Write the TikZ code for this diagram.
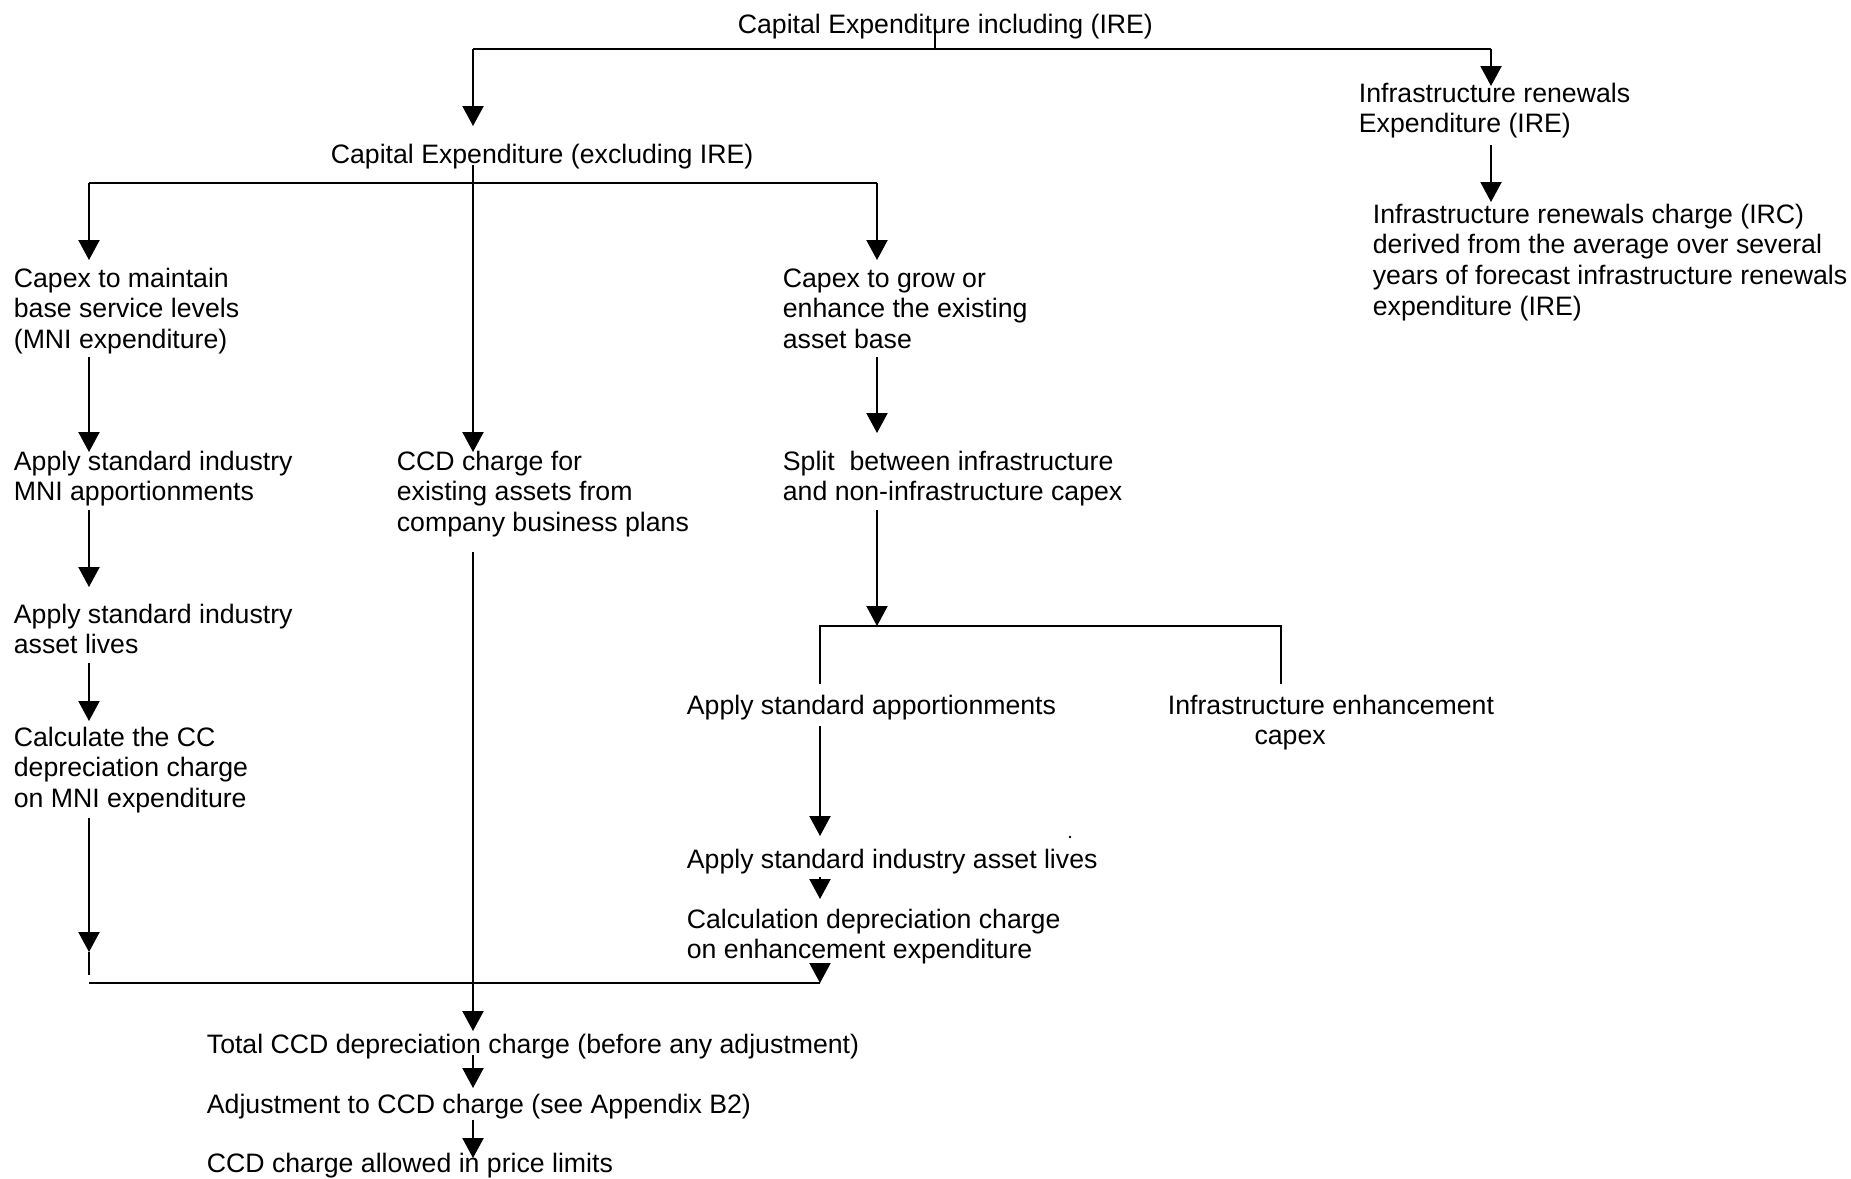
\documentclass[tikz,border=0pt]{standalone}
\usepackage{fontspec}
\setmainfont{Liberation Sans}
\usetikzlibrary{arrows.meta}
\begin{document}
\begin{tikzpicture}[x=0.45pt,y=-0.45pt,line width=0.8pt,
  txt/.style={inner sep=0pt,anchor=base west},
  arr/.style={-{Triangle[width=9.5pt,length=9pt]}},
  font=\fontsize{12}{13.8}\selectfont]
\useasboundingbox (0,0) rectangle (1851,1178);
% text nodes
\node[txt] (top) at (737,33) {Capital Expenditure including (IRE)};
\node[txt] (ire) at (1358,102) {\vtop{\hbox{Infrastructure renewals}\hbox{Expenditure (IRE)}}};
\node[txt] (irc) at (1372,223) {\vtop{\hbox{Infrastructure renewals charge (IRC)}\hbox{derived from the average over several}\hbox{years of forecast infrastructure renewals}\hbox{expenditure (IRE)}}};
\node[txt] (excl) at (330,163) {Capital Expenditure (excluding IRE)};
\node[txt] (mni) at (13,287) {\vtop{\hbox{Capex to maintain}\hbox{base service levels}\hbox{(MNI expenditure)}}};
\node[txt] (grow) at (782,287) {\vtop{\hbox{Capex to grow or}\hbox{enhance the existing}\hbox{asset base}}};
\node[txt] (apmni) at (13,470) {\vtop{\hbox{Apply standard industry}\hbox{MNI apportionments}}};
\node[txt] (ccd) at (396,470) {\vtop{\hbox{CCD charge for}\hbox{existing assets from}\hbox{company business plans}}};
\node[txt] (split) at (782,470) {\vtop{\hbox{Split\ \ between infrastructure}\hbox{and non-infrastructure capex}}};
\node[txt] (life) at (13,623) {\vtop{\hbox{Apply standard industry}\hbox{asset lives}}};
\node[txt] (calc) at (13,746) {\vtop{\hbox{Calculate the CC}\hbox{depreciation charge}\hbox{on MNI expenditure}}};
\node[txt] (appapp) at (686,714) {Apply standard apportionments};
\node[txt] (infenh) at (1167,714) {\vtop{\hbox{Infrastructure enhancement}\hbox{\hspace*{39pt}capex}}};
\node[txt] (lives2) at (686,868) {Apply standard industry asset lives};
\node[txt] (calc2) at (686,928) {\vtop{\hbox{Calculation depreciation charge}\hbox{on enhancement expenditure}}};
\node[txt] (total) at (206,1053) {Total CCD depreciation charge (before any adjustment)};
\node[txt] (adj) at (206,1113) {Adjustment to CCD charge (see Appendix B2)};
\node[txt] (allowed) at (206,1172) {CCD charge allowed in price limits};
% junction coordinates
\coordinate (tA) at (935,29);
\coordinate (tB) at (935,49);
\coordinate (hL) at (473,49);
\coordinate (hR) at (1491,49);
\coordinate (exIn) at (473,126);
\coordinate (ireIn) at (1491,86);
\coordinate (ireOut) at (1491,145);
\coordinate (ircIn) at (1491,202);
\coordinate (exOut) at (473,165);
\coordinate (ccdIn) at (473,452);
\coordinate (bL) at (89,183);
\coordinate (bR) at (877,183);
\coordinate (mniIn) at (89,260);
\coordinate (growIn) at (877,260);
\coordinate (mniOut) at (89,357);
\coordinate (apIn) at (89,452);
\coordinate (growOut) at (877,357);
\coordinate (splitIn) at (877,433);
\coordinate (apOut) at (89,510);
\coordinate (lifeIn) at (89,587);
\coordinate (lifeOut) at (89,663);
\coordinate (calcIn) at (89,721);
\coordinate (calcOut) at (89,818);
\coordinate (calcTip) at (89,952);
\coordinate (calcEnd) at (89,975);
\coordinate (ccdOut) at (473,552);
\coordinate (totIn) at (473,1031);
\coordinate (splitOut) at (877,510);
\coordinate (jT) at (877,626);
\coordinate (jL) at (820,626);
\coordinate (jR) at (1281,626);
\coordinate (jLd) at (820,684);
\coordinate (jRd) at (1281,684);
\coordinate (aaOut) at (820,726);
\coordinate (l2In) at (820,836);
\coordinate (l2Out) at (820,877);
\coordinate (c2In) at (820,899);
\coordinate (c2Out) at (820,963);
\coordinate (c2Tip) at (820,983);
\coordinate (mL) at (89,983);
\coordinate (totOut) at (473,1055);
\coordinate (adjIn) at (473,1088);
\coordinate (adjOut) at (473,1120);
\coordinate (allIn) at (473,1158);
\coordinate (dot) at (1070,837);
% connectors
\draw (tA) -- (tB);
\draw (hL) -- (hR);
\draw[arr] (hL) -- (exIn);
\draw[arr] (hR) -- (ireIn);
\draw[arr] (ireOut) -- (ircIn);
\draw[arr] (exOut) -- (ccdIn);
\draw (bL) -- (bR);
\draw[arr] (bL) -- (mniIn);
\draw[arr] (bR) -- (growIn);
\draw[arr] (mniOut) -- (apIn);
\draw[arr] (growOut) -- (splitIn);
\draw[arr] (apOut) -- (lifeIn);
\draw[arr] (lifeOut) -- (calcIn);
\draw[arr] (calcOut) -- (calcTip);
\draw (calcTip) -- (calcEnd);
\draw[arr] (ccdOut) -- (totIn);
\draw[arr] (splitOut) -- (jT);
\draw (jLd) -- (jL) -- (jR) -- (jRd);
\draw[arr] (aaOut) -- (l2In);
\draw[arr] (l2Out) -- (c2In);
\draw[arr] (c2Out) -- (c2Tip);
\draw (mL) -- (c2Tip);
\draw[arr] (totOut) -- (adjIn);
\draw[arr] (adjOut) -- (allIn);
\fill (dot) circle[radius=0.6pt];
\end{tikzpicture}
\end{document}
